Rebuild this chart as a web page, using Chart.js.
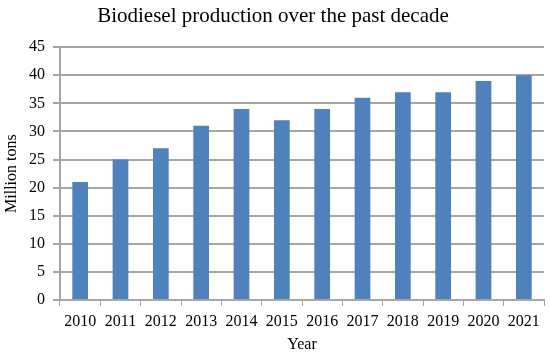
<!DOCTYPE html>
<html>
<head>
<meta charset="utf-8">
<script src="https://cdn.jsdelivr.net/npm/chart.js@4/dist/chart.umd.min.js"></script>
<style>
html,body{margin:0;padding:0;background:#fff;}
#wrap{width:550px;height:354px;position:relative;}
</style>
</head>
<body>
<div id="wrap"><canvas id="c" width="550" height="354"></canvas></div>
<script>
const years = ['2010','2011','2012','2013','2014','2015','2016','2017','2018','2019','2020','2021'];
const production = [21,25,27,31,34,32,34,36,37,37,39,40];
const yMin = 0, yMax = 45, yStep = 5;
const titleText = 'Biodiesel production over the past decade';
const xTitle = 'Year';
const yTitle = 'Million tons';

const serif = "'Liberation Serif', 'Times New Roman', serif";
const gridCol = '#a6a6a6';

new Chart(document.getElementById('c'), {
  type: 'bar',
  data: {
    labels: years,
    datasets: [{
      data: production,
      backgroundColor: '#4f81bd',
      borderWidth: 0,
      categoryPercentage: 1.0,
      barPercentage: 0.39
    }]
  },
  options: {
    responsive: false,
    animation: false,
    devicePixelRatio: 1,
    layout: { padding: { left: 2, right: 6, top: 4, bottom: 0 } },
    plugins: {
      legend: { display: false },
      tooltip: { enabled: false },
      title: {
        display: true,
        text: titleText,
        color: '#000',
        font: { family: serif, size: 21, weight: 'normal' },
        padding: { top: 0, bottom: 18 }
      }
    },
    scales: {
      x: {
        offset: true,
        grid: {
          offset: true,
          drawOnChartArea: false,
          drawTicks: true,
          tickLength: 6,
          color: gridCol,
          lineWidth: 1
        },
        border: { display: true, color: gridCol, width: 2 },
        ticks: { color: '#000', font: { family: serif, size: 16 }, padding: 6, maxRotation: 0, autoSkip: false },
        title: { display: true, text: xTitle, color: '#000', font: { family: serif, size: 16 }, padding: { top: 1, bottom: 0 } },
        afterFit: (s) => { s.height = 54; }
      },
      y: {
        min: yMin,
        max: yMax,
        grid: {
          color: gridCol,
          lineWidth: 2,
          drawTicks: true,
          tickLength: 7
        },
        border: { display: true, color: gridCol, width: 2 },
        ticks: { stepSize: yStep, color: '#000', font: { family: serif, size: 16 }, padding: 8 },
        title: { display: true, text: yTitle, color: '#000', font: { family: serif, size: 16 }, padding: { top: 0, bottom: 2 } },
        afterFit: (s) => { s.width = 58; }
      }
    }
  }
});
</script>
</body>
</html>
